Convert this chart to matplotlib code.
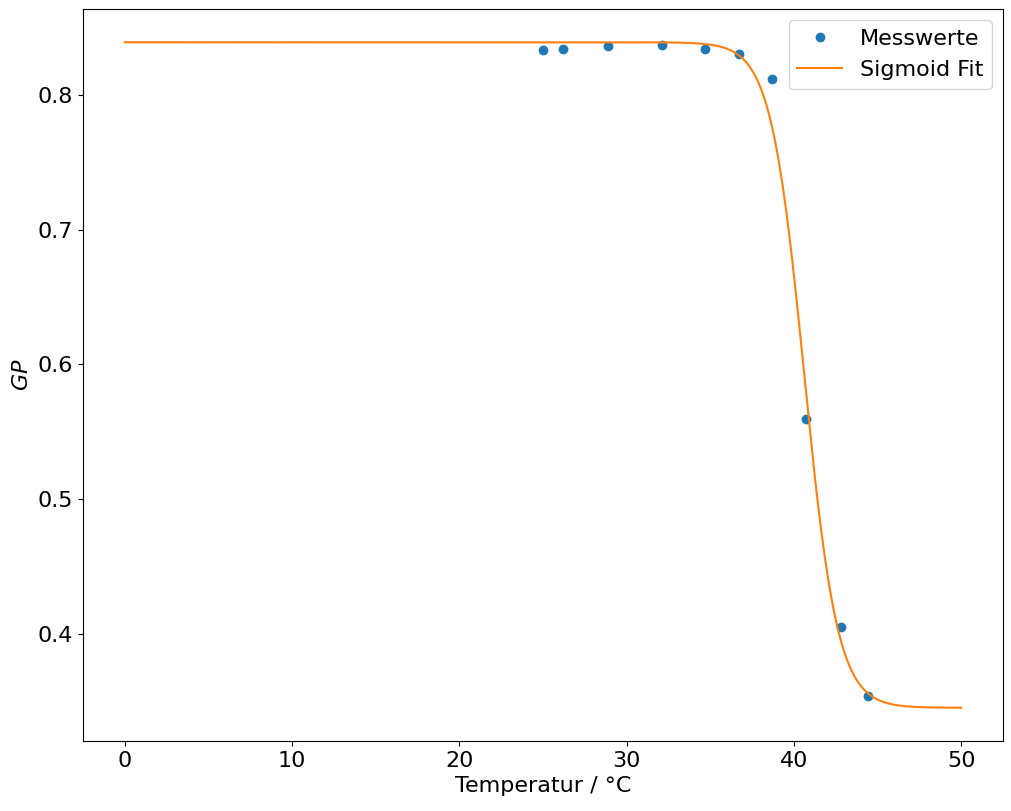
import numpy as np
import matplotlib
matplotlib.use('Agg')
import matplotlib.pyplot as plt

temperatur = [25.0, 26.2, 28.9, 32.1, 34.7, 36.7, 38.7, 40.7, 42.8, 44.4]
gp_werte = [0.833, 0.834, 0.836, 0.837, 0.834, 0.830, 0.812, 0.559, 0.405, 0.354]

# Parameter des Sigmoid-Fits
GP_OBEN = 0.839
GP_UNTEN = 0.345
T_MITTE = 40.62
BREITE = 1.0
T_BEREICH = (0, 50)


def sigmoid(t, oben, unten, t0, k):
    return unten + (oben - unten) / (1 + np.exp((t - t0) / k))


plt.rcParams['font.size'] = 16

fig = plt.figure(figsize=(10.11, 8.11), dpi=100)
ax = fig.add_axes([83 / 1011, 70 / 811, 920 / 1011, 732 / 811])

t_fit = np.linspace(*T_BEREICH, 1000)
ax.plot(temperatur, gp_werte, 'o', label='Messwerte')
ax.plot(t_fit, sigmoid(t_fit, GP_OBEN, GP_UNTEN, T_MITTE, BREITE), label='Sigmoid Fit')

ax.set_xlabel('Temperatur / °C')
ax.set_ylabel('$GP$')
ax.legend(loc='upper right')

fig.savefig('out.png', dpi=100)
